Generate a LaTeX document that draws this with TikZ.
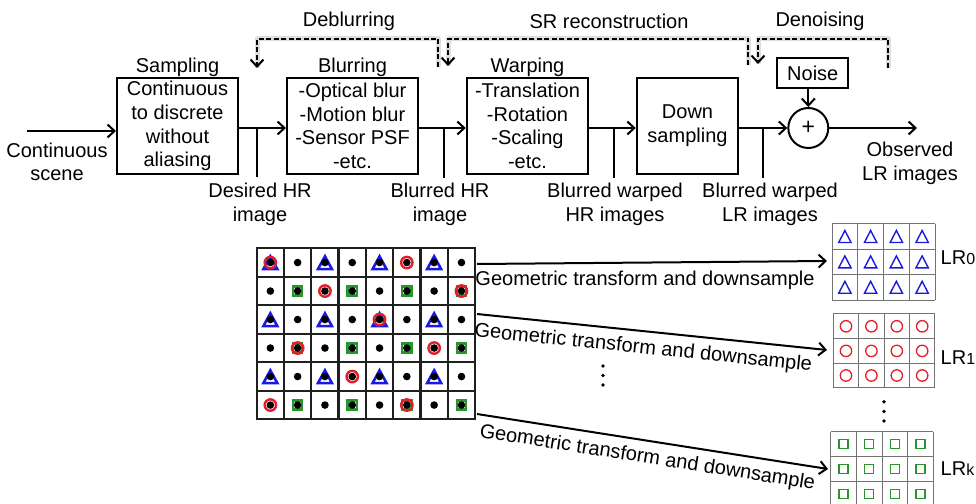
\documentclass[tikz,border=0pt]{standalone}
\usepackage{fontspec}
\setmainfont{Liberation Sans}
\usetikzlibrary{arrows.meta}
\definecolor{triblue}{RGB}{25,25,225}
\definecolor{cirred}{RGB}{228,30,40}
\definecolor{sqgreen}{RGB}{40,150,45}
\newcommand\lrsub[1]{{\fontsize{16bp}{16bp}\selectfont #1}}
\newcommand\drawlrgrid[5]{%
  \foreach \i in {0,...,4} \draw[lrgrid] ({#1+#3*\i},#2) -- ({#1+#3*\i},{#2+3*#4});
  \foreach \j in {0,...,3} \draw[lrgrid] (#1,{#2+#4*\j}) -- ({#1+4*#3},{#2+#4*\j});
  \foreach \i in {0,...,3} \foreach \j in {0,...,2} \pic at ({#1+#3*(\i+0.5)},{#2+#4*(\j+0.5)}) {#5};
}
\tikzset{
  txt/.style={font=\fontsize{20bp}{23.7bp}\selectfont},
  blk/.style={txt, draw, line width=2bp, minimum height=96bp, align=center, inner sep=0pt},
  lbl/.style={txt, align=center, inner sep=0pt},
  conn/.style={line width=2bp, -{Straight Barb[length=7bp,width=13bp]}},
  tapline/.style={line width=2bp},
  dsh/.style={line width=2bp, dash pattern=on 5bp off 2.5bp},
  dshtip/.style={dsh, -{Straight Barb[length=7bp,width=13bp]}},
  shd/.style={line width=5bp, black!13, line join=round},
  gridl/.style={line width=2.3bp, black!88},
  lrgrid/.style={line width=1bp, black!55},
  bigtri/.pic={\draw[triblue, line width=2.6bp, line join=miter] (-7,6.6) -- (7,6.6) -- (0,-6.2) -- cycle;},
  bigcirc/.pic={\draw[cirred, line width=2.4bp] (0,0) circle (5.7bp);},
  bigsq/.pic={\draw[sqgreen, line width=2.4bp] (-4.6,-4.6) rectangle (4.6,4.6);},
  bigdot/.pic={\fill[black] (0,0) circle (3.8bp);},
  lrtri/.pic={\draw[triblue, line width=1.4bp, line join=miter] (-6.2,5.8) -- (6.2,5.8) -- (0,-6.2) -- cycle;},
  lrcirc/.pic={\draw[cirred, line width=1.3bp] (0,0) circle (5.7bp);},
  lrsq/.pic={\draw[sqgreen, line width=1.3bp] (-4.6,-4.6) rectangle (4.6,4.6);},
}
\begin{document}
\begin{tikzpicture}[x=1bp,y=-1bp]
\useasboundingbox (0,0) rectangle (976,504);
\clip (0,0) rectangle (976,504);

% ---------- top pipeline ----------
\node[blk, minimum width=121bp] (samp) at (177.5,126) {Continuous\\to discrete\\without\\aliasing};
\node[blk, minimum width=131bp] (blur) at (352.5,126) {-Optical blur\\-Motion blur\\-Sensor PSF\\-etc.};
\node[blk, minimum width=121.5bp] (warp) at (527.5,126) {-Translation\\-Rotation\\-Scaling\\-etc.};
\node[blk, minimum width=101.5bp] (down) at (687.5,126) {Down\\sampling};
\node[lbl] (sampl) at (177.5,67) {Sampling};
\node[lbl] (blurl) at (352.5,67) {Blurring};
\node[lbl] (warpl) at (527.5,67) {Warping};

\coordinate (src) at (27,131);
\coordinate (ml) at (0,128);
\draw[conn] (src) -- (src -| samp.west);
\draw[conn] (samp.east |- ml) -- (blur.west |- ml);
\draw[conn] (blur.east |- ml) -- (warp.west |- ml);
\draw[conn] (warp.east |- ml) -- (down.west |- ml);
\node[font=\fontsize{23bp}{23bp}\selectfont, draw, circle, line width=2bp, minimum size=40bp, inner sep=0pt] (sum) at (808.3,128) {+};
\draw[conn] (down.east |- ml) -- (sum.west);
\node[txt, draw, line width=2bp, minimum width=71bp, minimum height=30bp, inner sep=0pt] (noise) at (812.8,73) {Noise};
\draw[conn] (noise.south -| sum) -- (sum.north);
\coordinate (outp) at (917,128);
\draw[conn] (sum.east) -- (outp);

% taps
\coordinate (t1) at (257,128);   \coordinate (t1e) at (257,177);
\coordinate (t2) at (444,128);   \coordinate (t2e) at (444,178);
\coordinate (t3) at (614,128);   \coordinate (t3e) at (614,178);
\coordinate (t4) at (763,128);   \coordinate (t4e) at (763,178);
\draw[tapline] (t1) -- (t1e);
\draw[tapline] (t2) -- (t2e);
\draw[tapline] (t3) -- (t3e);
\draw[tapline] (t4) -- (t4e);

\node[lbl] (scene) at (57,162) {Continuous\\scene};
\node[lbl] (dhr) at (260,204) {Desired HR\\image};
\node[lbl] (bhr) at (440,204) {Blurred HR\\image};
\node[lbl] (bwhr) at (615,204) {Blurred warped\\HR images};
\node[lbl] (bwlr) at (770,204) {Blurred warped\\LR images};
\node[lbl] (obs) at (910,163) {Observed\\LR images};

% dashed brackets
\node[lbl] (deb) at (349,21) {Deblurring};
\node[lbl] (srr) at (609,21) {SR reconstruction};
\node[lbl] (den) at (820,21) {Denoising};
\coordinate (da1) at (438,67);  \coordinate (da2) at (438,39);
\coordinate (da3) at (257,39);  \coordinate (da4) at (257,68);
\coordinate (sa1) at (748,65);  \coordinate (sa2) at (748,39);
\coordinate (sa3) at (448,39);  \coordinate (sa4) at (448,66);
\coordinate (na1) at (888,68);  \coordinate (na2) at (888,39);
\coordinate (na3) at (758,39);  \coordinate (na4) at (758,64);
\begin{scope}[shift={(2,3)}]
\draw[shd] (da1) -- (da2) -- (da3) -- (da4);
\draw[shd] (sa1) -- (sa2) -- (sa3) -- (sa4);
\draw[shd] (na1) -- (na2) -- (na3) -- (na4);
\end{scope}
\draw[dshtip] (da1) -- (da2) -- (da3) -- (da4);
\draw[dshtip] (sa1) -- (sa2) -- (sa3) -- (sa4);
\draw[dshtip] (na1) -- (na2) -- (na3) -- (na4);

% ---------- HR grid ----------
\foreach \r in {0,2,4} \foreach \c in {0,2,4,6}
  \pic at ({256.7+27.3*(\c+0.5)},{248.3+28.5*(\r+0.5)}) {bigtri};
\foreach \r in {1,3,5} \foreach \c in {1,3,5,7}
  \pic at ({256.7+27.3*(\c+0.5)},{248.3+28.5*(\r+0.5)}) {bigsq};
\foreach \r/\c in {0/0,0/5,1/2,1/7,2/4,3/1,3/6,4/3,5/0,5/5}
  \pic at ({256.7+27.3*(\c+0.5)},{248.3+28.5*(\r+0.5)}) {bigcirc};
\foreach \r in {0,...,5} \foreach \c in {0,...,7}
  \pic at ({256.7+27.3*(\c+0.5)},{248.3+28.5*(\r+0.5)}) {bigdot};
\foreach \i in {1,...,7} \draw[gridl] ({256.7+27.3*\i},248.3) -- ({256.7+27.3*\i},419.3);
\foreach \j in {1,...,5} \draw[gridl] (256.7,{248.3+28.5*\j}) -- (475.1,{248.3+28.5*\j});
\draw[gridl] (256.7,248.3) rectangle (475.1,419.3);

% ---------- LR grids ----------
\drawlrgrid{832}{224}{25.75}{25.4}{lrtri}
\drawlrgrid{833.3}{314}{25.4}{24.6}{lrcirc}
\drawlrgrid{830.7}{431.7}{25.65}{25}{lrsq}
\node[txt, anchor=base west, inner sep=0pt] (lr0) at (940.5,265) {LR\lrsub{0}};
\node[txt, anchor=base west, inner sep=0pt] (lr1) at (940.5,365) {LR\lrsub{1}};
\node[txt, anchor=base west, inner sep=0pt] (lrk) at (940.5,475) {LR\lrsub{k}};

% ---------- transform arrows ----------
\coordinate (g1) at (477,264);  \coordinate (l0) at (827,261);
\coordinate (g2) at (477,314);  \coordinate (l1) at (827,350);
\coordinate (g3) at (477,414);  \coordinate (lk) at (828,469);
\draw[conn] (g1) -- (l0) node[lbl, inner sep=7bp, below, pos=0.48] (gt1) {Geometric transform and downsample};
\draw[conn] (g2) -- (l1) node[lbl, inner sep=7bp, below, sloped, pos=0.48] (gt2) {Geometric transform and downsample};
\draw[conn] (g3) -- (lk) node[lbl, inner sep=7bp, below, sloped, pos=0.493] (gt3) {Geometric transform and downsample};

% vertical ellipses
\foreach \yy in {366,375.5,385} \fill (603,\yy) circle (1.9bp);
\foreach \yy in {401.7,411.5,421} \fill (884,\yy) circle (1.9bp);
\end{tikzpicture}
\end{document}
